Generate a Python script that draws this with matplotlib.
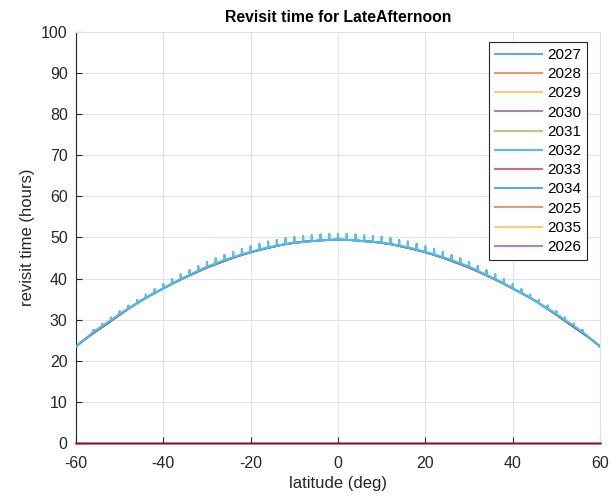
import numpy as np
import matplotlib
matplotlib.use("Agg")
from matplotlib import pyplot as plt

plt.rcParams['font.family'] = ['Liberation Sans', 'DejaVu Sans']
plt.rcParams['axes.unicode_minus'] = False

# latitude grid (deg) and base revisit curve (hours)
lat = [-60, -57.5, -55, -52.5, -50, -47.5, -45, -42.5, -40, -37.5, -35, -32.5,
       -30, -27.5, -25, -22.5, -20, -17.5, -15, -12.5, -10, -7.5, -5, -2.5,
       0, 2.5, 5, 7.5, 10, 12.5, 15, 17.5, 20, 22.5, 25, 27.5, 30, 32.5,
       35, 37.5, 40, 42.5, 45, 47.5, 50, 52.5, 55, 57.5, 60]
base = [23.5, 25.6, 27.5, 29.3, 31.2, 33.0, 34.7, 36.2, 37.6, 39.0, 40.3, 41.5,
        42.7, 43.7, 44.7, 45.6, 46.4, 47.1, 47.7, 48.3, 48.7, 49.0, 49.2, 49.4,
        49.5, 49.4, 49.2, 49.0, 48.7, 48.3, 47.7, 47.1, 46.4, 45.6, 44.7, 43.7,
        42.7, 41.5, 40.3, 39.0, 37.6, 36.2, 34.7, 33.0, 31.2, 29.3, 27.5, 25.6,
        23.5]
zero = [0.0] * len(lat)

# jagged 2032 series: spikes (lat, bottom, top)
spike_lat = [-56, -54, -52, -50, -48, -46, -44, -42, -40, -38, -36, -34, -32,
             -30, -28, -26, -24, -22, -20, -18, -16, -14, -12, -10, -8, -6,
             -4, -2, 0, 2, 4, 6, 8, 10, 12, 14, 16, 18, 20, 22, 24, 26, 28,
             30, 32, 34, 36, 38, 40, 42, 44, 46, 48, 50, 52, 54, 56]
spike_bot = [27.0, 28.5, 29.9, 31.4, 32.7, 34.0, 35.3, 36.5, 37.6, 38.8, 39.9,
             40.9, 41.9, 42.9, 43.7, 44.5, 45.2, 45.9, 46.5, 47.1, 47.6, 48.0,
             48.4, 48.7, 48.9, 49.1, 49.3, 49.4, 49.5, 49.4, 49.3, 49.1, 48.9,
             48.7, 48.4, 48.0, 47.6, 47.1, 46.5, 45.9, 45.2, 44.5, 43.7, 42.9,
             41.9, 40.9, 39.9, 38.8, 37.6, 36.5, 35.3, 34.0, 32.7, 31.4, 29.9,
             28.5, 27.0]
spike_top = [27.5, 29.0, 30.5, 32.0, 33.4, 34.8, 36.1, 37.4, 38.6, 39.8, 41.0,
             42.0, 43.0, 44.0, 44.9, 45.7, 46.5, 47.2, 47.8, 48.4, 49.0, 49.4,
             49.8, 50.1, 50.3, 50.5, 50.7, 50.8, 50.9, 50.8, 50.7, 50.5, 50.3,
             50.1, 49.8, 49.4, 49.0, 48.4, 47.8, 47.2, 46.5, 45.7, 44.9, 44.0,
             43.0, 42.0, 41.0, 39.8, 38.6, 37.4, 36.1, 34.8, 33.4, 32.0, 30.5,
             29.0, 27.5]

years = ['2027', '2028', '2029', '2030', '2031', '2032', '2033',
         '2034', '2025', '2035', '2026']
colors = ['#0072BD', '#D95319', '#EDB120', '#7E2F8E', '#77AC30', '#4DBEEE',
          '#A2142F', '#0072BD', '#D95319', '#EDB120', '#7E2F8E']
at_zero = ['2033']

fig = plt.figure(figsize=(6.16, 4.98), dpi=100)
ax = fig.add_axes([76/616, 1 - 443/498, 524/616, 411/498])

# jagged series path: base -> spike -> back, along the spike latitudes
jag_x = []
jag_y = []
for sl, sb, st in zip(spike_lat, spike_bot, spike_top):
    jag_x += [sl, sl, sl]
    jag_y += [sb, st, sb]
jag_x = [lat[0]] + jag_x + [lat[-1]]
jag_y = [base[0]] + jag_y + [base[-1]]

handles = []
for yr, c in zip(years, colors):
    if yr in at_zero:
        h, = ax.plot(lat, zero, color=c, lw=2.0, alpha=0.6, label=yr,
                     zorder=3, clip_on=False)
    elif yr == '2032':
        h, = ax.plot(jag_x, jag_y, color=c, lw=1.6, alpha=0.95, label=yr,
                     zorder=2.6)
    else:
        h, = ax.plot(lat, base, color=c, lw=1.2, alpha=0.6, label=yr)
    handles.append(h)

ax.set_xlim(-60, 60)
ax.set_ylim(0, 100)
ax.set_xticks(range(-60, 61, 20))
ax.set_yticks(range(0, 101, 10))
ax.grid(True, color='#e3e3e3', lw=0.8)
ax.set_axisbelow(True)
for s in ['top', 'right']:
    ax.spines[s].set_color('#e3e3e3')
for s in ['left', 'bottom']:
    ax.spines[s].set_color('#262626')
ax.tick_params(direction='in', length=4, labelsize=11.5, colors='#262626',
               top=False, right=False)
ax.tick_params(axis='x', pad=9)
ax.tick_params(axis='y', pad=6)
ax.set_xlabel('latitude (deg)', fontsize=12, color='#262626', labelpad=4)
ax.set_ylabel('revisit time (hours)', fontsize=12, color='#262626')
ax.set_title('Revisit time for LateAfternoon', fontsize=11.3, fontweight='bold', pad=7)

leg = ax.legend(handles=handles, loc='upper right',
                bbox_to_anchor=(1 - 13/524, 1 - 10/411),
                fontsize=11, frameon=True, fancybox=False, handlelength=3.1,
                labelspacing=0.34, borderpad=0.4, handletextpad=0.3,
                borderaxespad=0)
leg.get_frame().set_edgecolor('#262626')
leg.get_frame().set_linewidth(0.8)
leg.get_frame().set_alpha(1)
for ln in leg.get_lines():
    ln.set_linewidth(1.5)

fig.savefig('out.png', dpi=100)
